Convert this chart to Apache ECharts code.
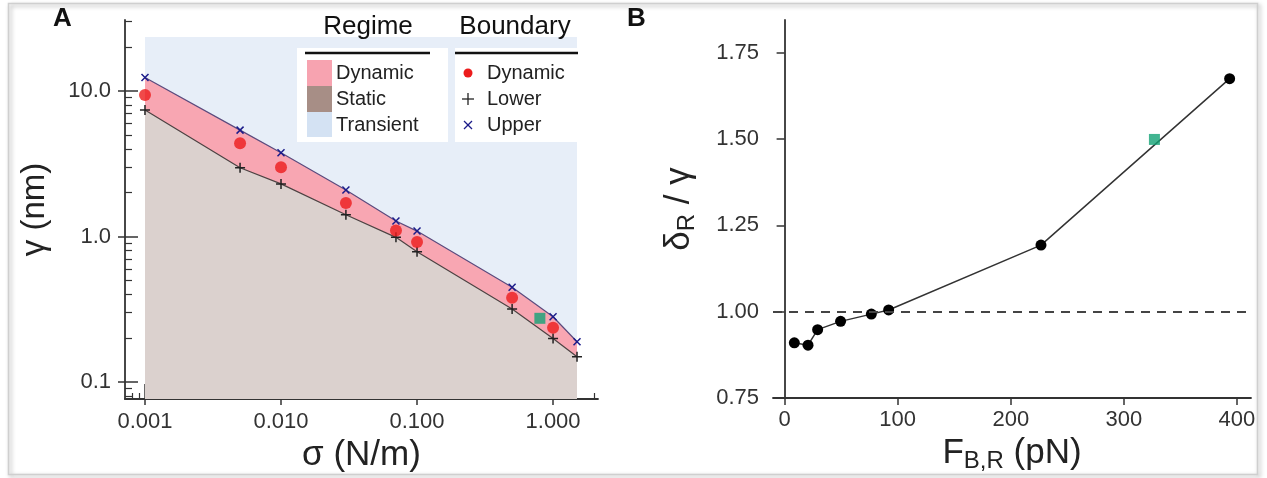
<!DOCTYPE html>
<html><head><meta charset="utf-8">
<script src="https://cdn.jsdelivr.net/npm/echarts@6/dist/echarts.min.js"></script>
<style>html,body{margin:0;padding:0;background:#fff}#c{width:1267px;height:478px}</style>
</head><body><div id="c"></div>
<script>
// ---------- Panel A data ----------
const sigma      = [0.001, 0.005, 0.01, 0.03, 0.07, 0.1, 0.5, 1.0, 1.5];
const gammaUpper = [12.4, 5.39, 3.77, 2.09, 1.28, 1.09, 0.448, 0.281, 0.189];
const gammaLower = [7.40, 2.97, 2.30, 1.41, 0.987, 0.787, 0.318, 0.199, 0.149];
const sigmaDyn   = [0.001, 0.005, 0.01, 0.03, 0.07, 0.1, 0.5, 1.0];
const gammaDyn   = [9.4, 4.37, 2.99, 1.70, 1.10, 0.917, 0.38, 0.236];
const greenA     = [[0.80, 0.274]];
const transientX = [0.001, 1.5];
const transientTop = 23.5;
const xTicksA = [0.001, 0.01, 0.1, 1];
const xLabelsA = ['0.001', '0.010', '0.100', '1.000'];
const yTicksA = [0.1, 1, 10];
const yLabelsA = ['0.1', '1.0', '10.0'];
const xMinorA = [0.0008,0.0009,0.002,0.003,0.004,0.005,0.006,0.007,0.008,0.009,
                 0.02,0.03,0.04,0.05,0.06,0.07,0.08,0.09,0.2,0.3,0.4,0.5,0.6,0.7,0.8,0.9,2];
const yMinorA = [0.08,0.09,0.2,0.3,0.4,0.5,0.6,0.7,0.8,0.9,2,3,4,5,6,7,8,9,20,30];
// ---------- Panel B data ----------
const forceB = [8.6, 20.7, 29.2, 49.5, 76.7, 92, 226.7, 393.5];
const ratioB = [0.910, 0.903, 0.948, 0.972, 0.993, 1.005, 1.193, 1.675];
const greenB = [[327, 1.499]];
const xTicksB = [0, 100, 200, 300, 400];
const xLabelsB = ['0', '100', '200', '300', '400'];
const yTicksB = [0.75, 1.0, 1.25, 1.5, 1.75];
const yLabelsB = ['0.75', '1.00', '1.25', '1.50', '1.75'];
const refLineB = 1.0;

const FONT = 'Liberation Sans, Arial, sans-serif';
const AX = '#333';
const zip = (a, b) => a.map((v, i) => [v, b[i]]);
const logFmt = (ticks, labels) => v => {
  const i = ticks.findIndex(t => Math.abs(Math.log10(t) - Math.log10(v)) < 1e-6);
  return i >= 0 ? labels[i] : '';
};
const linFmt = (ticks, labels) => v => {
  const i = ticks.findIndex(t => Math.abs(t - v) < 1e-9);
  return i >= 0 ? labels[i] : '';
};
const labelStyle = {fontSize: 22, color: '#333', fontFamily: FONT};

const XA = {type: 'log', gridIndex: 0, min: 0.000713, max: 2.14, position: 'bottom', splitLine: {show: false}};
const YA = {type: 'log', gridIndex: 0, min: 0.0764, max: 30.8, position: 'left', splitLine: {show: false}};

const xAxes = [
  Object.assign({}, XA, {
    axisLine: {show: true, lineStyle: {color: AX, width: 1.8}},
    axisTick: {show: true, inside: true, length: 15, customValues: xTicksA, lineStyle: {color: AX, width: 1.5}},
    axisLabel: Object.assign({show: true, customValues: xTicksA, formatter: logFmt(xTicksA, xLabelsA), margin: 12}, labelStyle),
    name: 'σ (N/m)', nameLocation: 'middle', nameGap: 29,
    nameTextStyle: {fontSize: 35, color: '#222', fontFamily: FONT, verticalAlign: 'top'}
  }),
  Object.assign({}, XA, {
    axisLine: {show: false},
    axisTick: {show: true, inside: false, length: 6, customValues: xTicksA, lineStyle: {color: AX, width: 1.5}},
    axisLabel: {show: false}
  }),
  Object.assign({}, XA, {
    axisLine: {show: false},
    axisTick: {show: true, inside: true, length: 6, customValues: xMinorA, lineStyle: {color: AX, width: 1.2}},
    axisLabel: {show: false}
  }),
  {type: 'value', gridIndex: 1, min: -10.26, max: 412.4, splitLine: {show: false},
    axisLine: {show: true, lineStyle: {color: AX, width: 1.8}},
    axisTick: {show: true, inside: false, length: 7, customValues: xTicksB, lineStyle: {color: AX, width: 1.5}},
    axisLabel: Object.assign({show: true, customValues: xTicksB, formatter: linFmt(xTicksB, xLabelsB), margin: 11}, labelStyle),
    name: '{m|F}{s|B,R}{m| (pN)}', nameLocation: 'middle', nameGap: 30,
    nameTextStyle: {verticalAlign: 'top', rich: {
      m: {fontSize: 35, color: '#222', fontFamily: FONT},
      s: {fontSize: 24, color: '#222', fontFamily: FONT, padding: [15, 0, 0, 0]}
    }}
  }
];
const yAxes = [
  Object.assign({}, YA, {
    axisLine: {show: true, lineStyle: {color: AX, width: 1.8}},
    axisTick: {show: true, inside: true, length: 13, customValues: yTicksA, lineStyle: {color: AX, width: 1.5}},
    axisLabel: Object.assign({show: true, customValues: yTicksA, formatter: logFmt(yTicksA, yLabelsA), margin: 14}, labelStyle),
    name: 'γ (nm)', nameLocation: 'middle', nameGap: 74,
    nameTextStyle: {fontSize: 33, color: '#222', fontFamily: FONT}
  }),
  Object.assign({}, YA, {
    axisLine: {show: false},
    axisTick: {show: true, inside: false, length: 7, customValues: yTicksA, lineStyle: {color: AX, width: 1.5}},
    axisLabel: {show: false}
  }),
  Object.assign({}, YA, {
    axisLine: {show: false},
    axisTick: {show: true, inside: true, length: 7, customValues: yMinorA, lineStyle: {color: AX, width: 1.2}},
    axisLabel: {show: false}
  }),
  {type: 'value', gridIndex: 1, min: 0.75, max: 1.845, splitLine: {show: false},
    axisLine: {show: true, lineStyle: {color: AX, width: 1.8}},
    axisTick: {show: true, inside: false, length: 8, customValues: yTicksB, lineStyle: {color: AX, width: 1.5}},
    axisLabel: Object.assign({show: true, customValues: yTicksB, formatter: linFmt(yTicksB, yLabelsB), margin: 14}, labelStyle),
    name: '{m|δ}{s|R}{m| / γ}', nameLocation: 'middle', nameGap: 74,
    nameTextStyle: {rich: {
      m: {fontSize: 35, color: '#222', fontFamily: FONT},
      s: {fontSize: 24, color: '#222', fontFamily: FONT, padding: [15, 0, 0, 0]}
    }}
  }
];

const crossPath = 'path://M0,0L10,10M10,0L0,10';
const plusPath = 'path://M5,0L5,10M0,5L10,5';

const series = [
  {type: 'line', xAxisIndex: 0, yAxisIndex: 0, data: transientX.map(x => [x, transientTop]),
    symbol: 'none', lineStyle: {width: 0}, areaStyle: {color: '#e7eef8', opacity: 1, origin: 'start'}, silent: true, z: 1},
  {type: 'line', xAxisIndex: 0, yAxisIndex: 0, data: zip(sigma, gammaUpper),
    symbol: crossPath, symbolSize: 7, showAllSymbol: true,
    itemStyle: {color: '#1c1c8a', borderColor: '#1c1c8a', borderWidth: 1.5},
    lineStyle: {color: '#5b4b7e', width: 1.2}, areaStyle: {color: '#f8a6b2', opacity: 1, origin: 'start'}, z: 2},
  {type: 'line', xAxisIndex: 0, yAxisIndex: 0, data: zip(sigma, gammaLower),
    symbol: plusPath, symbolSize: 10, showAllSymbol: true,
    itemStyle: {color: '#222', borderColor: '#222', borderWidth: 1.5},
    lineStyle: {color: '#4d4343', width: 1.2}, areaStyle: {color: '#dbd1ce', opacity: 1, origin: 'start'}, z: 3},
  {type: 'scatter', xAxisIndex: 0, yAxisIndex: 0, data: zip(sigmaDyn, gammaDyn),
    symbol: 'circle', symbolSize: 12, itemStyle: {color: '#ec1c1c'}, z: 4},
  {type: 'scatter', xAxisIndex: 0, yAxisIndex: 0, data: greenA,
    symbol: 'rect', symbolSize: 11, itemStyle: {color: '#13a276'}, z: 4},
  {type: 'line', xAxisIndex: 3, yAxisIndex: 3, data: zip(forceB, ratioB),
    symbol: 'circle', symbolSize: 11, showAllSymbol: true, itemStyle: {color: '#000'},
    lineStyle: {color: '#333', width: 1.5}, z: 4,
    markLine: {silent: true, symbol: ['none', 'none'], label: {show: false},
      lineStyle: {type: [9, 7], color: '#444', width: 2.2}, data: [{yAxis: refLineB}]}},
  {type: 'scatter', xAxisIndex: 3, yAxisIndex: 3, data: greenB,
    symbol: 'rect', symbolSize: 11, itemStyle: {color: '#13a276'}, z: 5}
];

const T = (x, y, text, opt) => ({type: 'text', x, y, z: 100,
  style: Object.assign({text, fontFamily: FONT, fill: '#222', fontSize: 20, textVerticalAlign: 'middle'}, opt || {})});

const graphic = [
  {type: 'rect', shape: {x: 8.5, y: 3.5, width: 1249, height: 471}, z: 0,
    style: {fill: 'none', stroke: '#cfcfcf', lineWidth: 1.5, shadowBlur: 4, shadowColor: 'rgba(0,0,0,0.35)', shadowOffsetX: 2, shadowOffsetY: 2}},
  T(53, 19, 'A', {fontSize: 26, fontWeight: 'bold', fill: '#111'}),
  T(627, 19, 'B', {fontSize: 26, fontWeight: 'bold', fill: '#111'}),
  // legend boxes
  {type: 'rect', shape: {x: 297, y: 48, width: 151, height: 94}, style: {fill: '#fff'}, z: 90},
  {type: 'rect', shape: {x: 455, y: 48, width: 122, height: 94}, style: {fill: '#fff'}, z: 90},
  T(368, 27, 'Regime', {fontSize: 26, textAlign: 'center', fill: '#111'}),
  T(515, 27, 'Boundary', {fontSize: 26, textAlign: 'center', fill: '#111'}),
  {type: 'line', shape: {x1: 305, y1: 53, x2: 430, y2: 53}, style: {stroke: '#111', lineWidth: 2.5}, z: 100},
  {type: 'line', shape: {x1: 455, y1: 53, x2: 578, y2: 53}, style: {stroke: '#111', lineWidth: 2.5}, z: 100},
  {type: 'rect', shape: {x: 307, y: 60, width: 25, height: 26}, style: {fill: '#f7a3b0'}, z: 100},
  {type: 'rect', shape: {x: 307, y: 86, width: 25, height: 26}, style: {fill: '#a78e86'}, z: 100},
  {type: 'rect', shape: {x: 307, y: 112, width: 25, height: 25}, style: {fill: '#d4e2f3'}, z: 100},
  T(336, 73, 'Dynamic'), T(336, 99, 'Static'), T(336, 125, 'Transient'),
  {type: 'circle', shape: {cx: 468, cy: 73, r: 4.5}, style: {fill: '#ec1c1c'}, z: 100},
  {type: 'line', shape: {x1: 462, y1: 99, x2: 474, y2: 99}, style: {stroke: '#222', lineWidth: 1.3}, z: 100},
  {type: 'line', shape: {x1: 468, y1: 93, x2: 468, y2: 105}, style: {stroke: '#222', lineWidth: 1.3}, z: 100},
  {type: 'line', shape: {x1: 464, y1: 121, x2: 472, y2: 129}, style: {stroke: '#1c1c8a', lineWidth: 1.3}, z: 100},
  {type: 'line', shape: {x1: 472, y1: 121, x2: 464, y2: 129}, style: {stroke: '#1c1c8a', lineWidth: 1.3}, z: 100},
  T(487, 73, 'Dynamic'), T(487, 99, 'Lower'), T(487, 125, 'Upper')
];

const chart = echarts.init(document.getElementById('c'), null, {renderer: 'canvas'});
chart.setOption({
  animation: false,
  backgroundColor: '#fff',
  grid: [
    {left: 125, top: 20, width: 473, height: 379},
    {left: 773, top: 20, width: 478, height: 378}
  ],
  xAxis: xAxes,
  yAxis: yAxes,
  series,
  graphic
});
</script></body></html>
